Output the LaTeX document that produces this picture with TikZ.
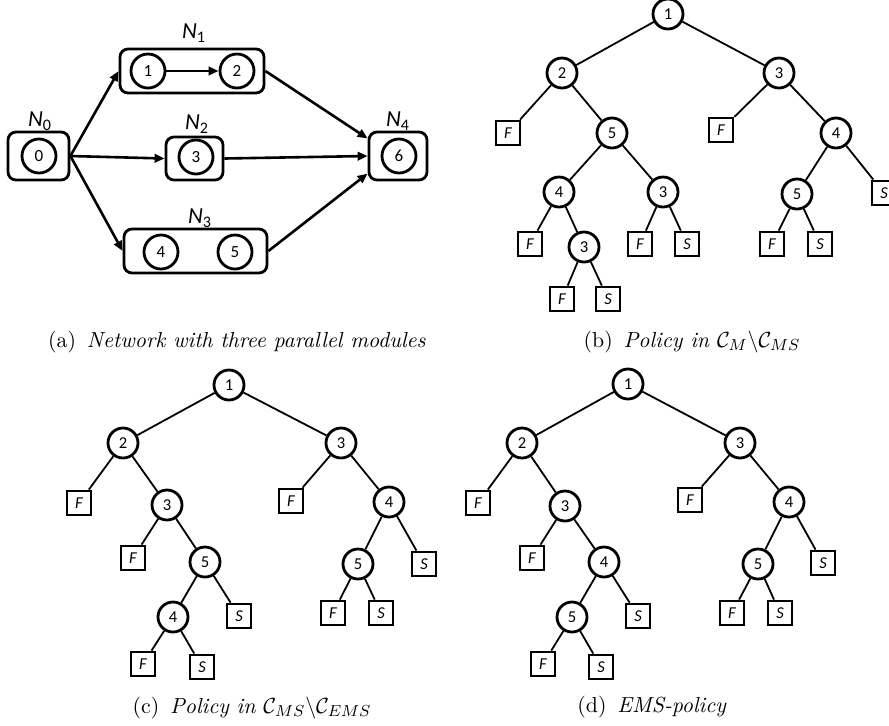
\documentclass[tikz,border=0pt]{standalone}
\usepackage{fontspec}
\newfontfamily\lab{Carlito}
\usetikzlibrary{arrows.meta}
\tikzset{
  circ/.style={circle,draw,line width=1.4pt,minimum size=15pt,inner sep=0pt,font=\lab\fontsize{8.3}{8.3}\selectfont},
  bigcirc/.style={circle,draw,line width=1.4pt,minimum size=17pt,inner sep=0pt,font=\lab\fontsize{8.5}{8.5}\selectfont},
  leaf/.style={rectangle,draw,line width=1.4pt,minimum size=12pt,inner sep=0pt,font=\lab\itshape\fontsize{8.3}{8.3}\selectfont},
  modbox/.style={rectangle,rounded corners=4pt,draw,line width=1.4pt,inner sep=0pt},
  nlabel/.style={inner sep=0pt,font=\lab\itshape\fontsize{11.5}{11.5}\selectfont},
  edge/.style={line width=0.9pt},
  arr/.style={line width=1.3pt,-{Triangle[length=5pt,width=4.2pt]}},
  captext/.style={inner sep=0pt,font=\fontsize{10.9}{13}\selectfont}
}
\newcommand{\Nl}[1]{N\textsubscript{\upshape #1}}
\begin{document}
\begin{tikzpicture}[x=0.5pt,y=-0.5pt]
\useasboundingbox (0,0) rectangle (889,725);
\clip (0,0) rectangle (889,725);
% ---------- panel (a)
\node[modbox,minimum width=30.5pt,minimum height=24pt] (N0) at (38.5,156) {};
\node[modbox,minimum width=72pt,minimum height=22pt] (N1) at (192,71) {};
\node[modbox,minimum width=28.5pt,minimum height=21.5pt] (N2) at (194.5,158.5) {};
\node[modbox,minimum width=71.5pt,minimum height=22pt] (N3) at (195.5,251) {};
\node[modbox,minimum width=29pt,minimum height=24pt] (N4) at (398,156) {};
\node[bigcirc] (a0) at (39,156) {0};
\node[bigcirc] (a1) at (148,71) {1};
\node[bigcirc] (a2) at (237,71) {2};
\node[bigcirc] (a3) at (196,157) {3};
\node[bigcirc] (a4) at (161,252) {4};
\node[bigcirc] (a5) at (235,252) {5};
\node[bigcirc] (a6) at (399,156) {6};
\node[nlabel] (L0) at (40,121) {\Nl{0}};
\node[nlabel] (L1) at (194,33) {\Nl{1}};
\node[nlabel] (L2) at (197,124) {\Nl{2}};
\node[nlabel] (L3) at (200,218) {\Nl{3}};
\node[nlabel] (L4) at (398,121) {\Nl{4}};
\draw[arr] (a1) -- (a2);
\draw[arr] (N0.east) -- (N1.west);
\draw[arr] (N0.east) -- (N2.west);
\draw[arr] (N0.east) -- (N3.west);
\draw[arr] (N1.east) -- (N4.150);
\draw[arr] (N2.east) -- (N4.west);
\draw[arr] (N3.east) -- (N4.210);
\node[captext] (capa) at (237,342) {(a)\enspace\textit{Network with three parallel modules}};
% ---------- panel (b)
\node[circ] (b1) at (668,14) {1};
\node[circ] (b2) at (562,73) {2};
\node[circ] (b3) at (779,73) {3};
\node[leaf] (bF1) at (508,133) {F};
\node[circ] (b5) at (612,133) {5};
\node[leaf] (bF2) at (721,130) {F};
\node[circ] (b4r) at (836,133) {4};
\node[circ] (b4) at (559,192) {4};
\node[circ] (b3m) at (663,192) {3};
\node[circ] (b5r) at (797,194) {5};
\node[leaf] (bSr) at (884,193) {S};
\node[leaf] (bF3) at (530,244) {F};
\node[circ] (b3l) at (584,247) {3};
\node[leaf] (bF4) at (640,244) {F};
\node[leaf] (bS1) at (687,244) {S};
\node[leaf] (bF5) at (772,244) {F};
\node[leaf] (bS2) at (820,244) {S};
\node[leaf] (bF6) at (562,299) {F};
\node[leaf] (bS3) at (608,299) {S};
\foreach \u/\v in {b1/b2,b1/b3,b2/bF1,b2/b5,b3/bF2,b3/b4r,b5/b4,b5/b3m,b4/bF3,b4/b3l,b3l/bF6,b3l/bS3,b3m/bF4,b3m/bS1,b4r/b5r,b4r/bSr,b5r/bF5,b5r/bS2}
  \draw[edge] (\u) -- (\v);
\node[captext] (capb) at (692,342) {(b)\enspace\textit{Policy in} $\mathcal{C}_M\backslash\mathcal{C}_{MS}$};
% ---------- panel (c)
\node[circ] (c1) at (229,385) {1};
\node[circ] (c2) at (123,443) {2};
\node[circ] (c3) at (341,443) {3};
\node[leaf] (cF1) at (79,503) {F};
\node[circ] (c3m) at (167,505) {3};
\node[leaf] (cF2) at (291,501) {F};
\node[circ] (c4r) at (389,502) {4};
\node[leaf] (cF3) at (133,558) {F};
\node[circ] (c5) at (205,562) {5};
\node[circ] (c5r) at (358,564) {5};
\node[leaf] (cSr) at (424,564) {S};
\node[circ] (c4) at (173,617) {4};
\node[leaf] (cS1) at (239,616) {S};
\node[leaf] (cF4) at (333,613) {F};
\node[leaf] (cS2) at (381,613) {S};
\node[leaf] (cF5) at (143,664) {F};
\node[leaf] (cS3) at (202,667) {S};
\foreach \u/\v in {c1/c2,c1/c3,c2/cF1,c2/c3m,c3/cF2,c3/c4r,c3m/cF3,c3m/c5,c5/c4,c5/cS1,c4/cF5,c4/cS3,c4r/c5r,c4r/cSr,c5r/cF4,c5r/cS2}
  \draw[edge] (\u) -- (\v);
\node[captext] (capc) at (252,708) {(c)\enspace\textit{Policy in} $\mathcal{C}_{MS}\backslash\mathcal{C}_{EMS}$};
% ---------- panel (d)
\node[circ] (d1) at (628,384) {1};
\node[circ] (d2) at (522,443) {2};
\node[circ] (d3) at (740,443) {3};
\node[leaf] (dF1) at (478,503) {F};
\node[circ] (d3m) at (565,506) {3};
\node[leaf] (dF2) at (690,500) {F};
\node[circ] (d4r) at (789,502) {4};
\node[leaf] (dF3) at (532,558) {F};
\node[circ] (d4m) at (604,562) {4};
\node[circ] (d5r) at (758,564) {5};
\node[leaf] (dSr) at (823,563) {S};
\node[circ] (d5) at (572,617) {5};
\node[leaf] (dS1) at (638,616) {S};
\node[leaf] (dF4) at (732,613) {F};
\node[leaf] (dS2) at (780,613) {S};
\node[leaf] (dF5) at (543,664) {F};
\node[leaf] (dS3) at (601,667) {S};
\foreach \u/\v in {d1/d2,d1/d3,d2/dF1,d2/d3m,d3/dF2,d3/d4r,d3m/dF3,d3m/d4m,d4m/d5,d4m/dS1,d5/dF5,d5/dS3,d4r/d5r,d4r/dSr,d5r/dF4,d5r/dS2}
  \draw[edge] (\u) -- (\v);
\node[captext] (capd) at (652,707) {(d)\enspace\textit{EMS-policy}};
\end{tikzpicture}
\end{document}
